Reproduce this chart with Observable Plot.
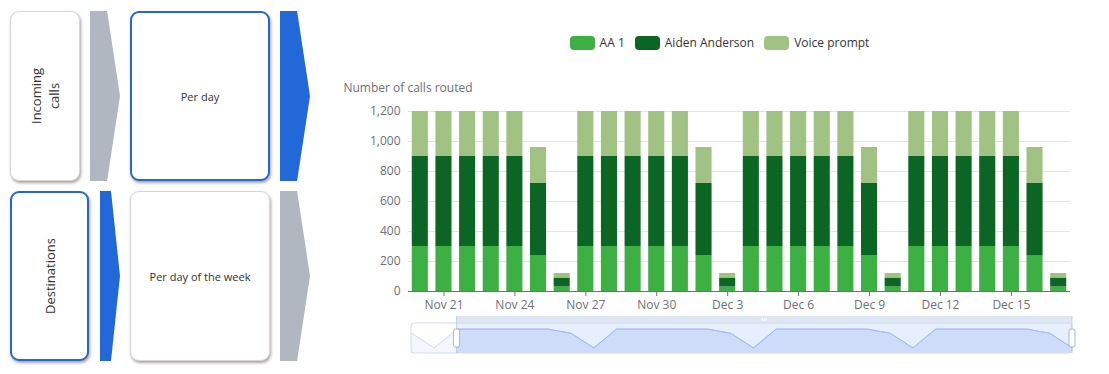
<!DOCTYPE html>
<html><head><meta charset="utf-8">
<script src="https://cdn.jsdelivr.net/npm/d3@7"></script>
<script src="https://cdn.jsdelivr.net/npm/@observablehq/plot@0.6"></script>
<style>
body{margin:0;background:#fff;font-family:"Open Sans",sans-serif;}
#root{position:relative;width:1109px;height:374px;overflow:hidden;}
.box{position:absolute;box-sizing:border-box;background:#fff;border:1px solid #d9d5d5;border-radius:9px;box-shadow:1px 2px 3px rgba(70,50,50,0.45);display:flex;align-items:center;justify-content:center;color:#333;}
.box.sel{border:2px solid #2368d8;}
.arrow{position:absolute;}
.rot{transform:rotate(-90deg);white-space:nowrap;text-align:center;font-size:13px;line-height:18px;}
.flat{font-size:11px;white-space:nowrap;}
#legend{position:absolute;left:330px;width:779px;top:34px;display:flex;justify-content:center;gap:10px;font-size:12px;color:#333;line-height:18px;}
#legend .item{display:flex;align-items:center;gap:5px;}
#legend .sw{width:25px;height:14px;border-radius:4px;}
#ylabel{position:absolute;left:308px;width:200px;top:80px;text-align:center;font-size:12px;color:#6e7079;line-height:16px;}
#chart,#slider{position:absolute;left:330px;}
#chart{top:80px;}
#slider{top:306px;}
</style></head>
<body>
<div id="root">
  <div class="box" style="left:10px;top:11px;width:70px;height:170px;"><div class="rot">Incoming<br>calls</div></div>
  <div class="arrow" style="left:90px;top:11px;width:30px;height:170px;background:#b1b7c0;clip-path:polygon(0 0,57% 0,100% 50%,57% 100%,0 100%);"></div>
  <div class="box sel" style="left:130px;top:11px;width:140px;height:170px;"><div class="flat">Per day</div></div>
  <div class="arrow" style="left:280px;top:11px;width:30px;height:170px;background:#2368d8;clip-path:polygon(0 0,57% 0,100% 50%,57% 100%,0 100%);"></div>

  <div class="box sel" style="left:10px;top:191px;width:79px;height:170px;"><div class="rot">Destinations</div></div>
  <div class="arrow" style="left:100px;top:191px;width:20px;height:170px;background:#2368d8;clip-path:polygon(0 0,55% 0,100% 50%,55% 100%,0 100%);"></div>
  <div class="box" style="left:130px;top:191px;width:140px;height:170px;"><div class="flat">Per day of the week</div></div>
  <div class="arrow" style="left:280px;top:191px;width:30px;height:170px;background:#b1b7c0;clip-path:polygon(0 0,57% 0,100% 50%,57% 100%,0 100%);"></div>

  <div id="legend"></div>
  <div id="ylabel">Number of calls routed</div>
  <div id="chart"></div>
  <div id="slider"></div>
</div>
<script>
// ---- data ----
const dates = ["2023-11-18","2023-11-19","2023-11-20","2023-11-21","2023-11-22","2023-11-23","2023-11-24","2023-11-25","2023-11-26","2023-11-27","2023-11-28","2023-11-29","2023-11-30","2023-12-01","2023-12-02","2023-12-03","2023-12-04","2023-12-05","2023-12-06","2023-12-07","2023-12-08","2023-12-09","2023-12-10","2023-12-11","2023-12-12","2023-12-13","2023-12-14","2023-12-15","2023-12-16","2023-12-17"];
const seriesNames = ["AA 1", "Aiden Anderson", "Voice prompt"];
const seriesColors = ["#3cb043", "#0b6623", "#a0c283"];
const aa1Values   = [240,30,300,300,300,300,300,240,30,300,300,300,300,300,240,30,300,300,300,300,300,240,30,300,300,300,300,300,240,30];
const aidenValues = [480,60,600,600,600,600,600,480,60,600,600,600,600,600,480,60,600,600,600,600,600,480,60,600,600,600,600,600,480,60];
const voiceValues = [240,30,300,300,300,300,300,240,30,300,300,300,300,300,240,30,300,300,300,300,300,240,30,300,300,300,300,300,240,30];
const yTicks = [0, 200, 400, 600, 800, 1000, 1200];
const xTickDates = ["2023-11-21","2023-11-24","2023-11-27","2023-11-30","2023-12-03","2023-12-06","2023-12-09","2023-12-12","2023-12-15"];
const zoomStart = "2023-11-20";
const zoomEnd = "2023-12-17";

// ---- derived tables ----
const seriesValues = [aa1Values, aidenValues, voiceValues];
const visibleDates = dates.filter(d => d >= zoomStart && d <= zoomEnd);
const rows = [];
seriesNames.forEach((s, si) => {
  dates.forEach((d, i) => {
    if (d >= zoomStart && d <= zoomEnd) rows.push({date: d, series: s, value: seriesValues[si][i]});
  });
});
const totals = dates.map((d, i) => ({date: new Date(d), total: aa1Values[i] + aidenValues[i] + voiceValues[i]}));
const fmt = d3.utcFormat("%b %-d");

// ---- legend ----
const legend = document.getElementById("legend");
seriesNames.forEach((s, i) => {
  const it = document.createElement("div"); it.className = "item";
  const sw = document.createElement("div"); sw.className = "sw"; sw.style.background = seriesColors[i];
  const tx = document.createElement("span"); tx.textContent = s;
  it.appendChild(sw); it.appendChild(tx); legend.appendChild(it);
});

// ---- main chart ----
const chart = Plot.plot({
  width: 760, height: 241,
  marginLeft: 78, marginRight: 20, marginTop: 31, marginBottom: 30,
  style: {fontFamily: "Open Sans, sans-serif", fontSize: "12px", color: "#6e7079", background: "transparent", overflow: "visible"},
  x: {type: "band", domain: visibleDates, paddingInner: 0.32, paddingOuter: 0.16, round: false, label: null},
  y: {domain: [0, 1200], label: null},
  color: {domain: seriesNames, range: seriesColors},
  marks: [
    Plot.gridY(yTicks, {stroke: "#e0e6f1", strokeOpacity: 1}),
    Plot.barY(rows, {x: "date", y: "value", fill: "series"}),
    Plot.ruleY([0], {stroke: "#6e7079"}),
    Plot.axisY(yTicks, {tickSize: 0, tickPadding: 8, tickFormat: d3.format(","), label: null}),
    Plot.axisX(xTickDates, {tickSize: 5, tickPadding: 4, tickFormat: d => fmt(new Date(d)), label: null, stroke: "#6e7079"})
  ]
});
document.getElementById("chart").appendChild(chart);

// ---- data zoom slider ----
const tMin = d3.min(totals, d => d.total), tMax = d3.max(totals, d => d.total);
const pad = (tMax - tMin) * 0.3;
const lo = tMin - pad, hi = tMax + pad;
const selTotals = totals.filter(d => d.date >= new Date(zoomStart));
const slider = Plot.plot({
  width: 760, height: 54,
  marginLeft: 81, marginRight: 18, marginTop: 17, marginBottom: 7,
  style: {background: "transparent", overflow: "visible"},
  x: {type: "utc", domain: [new Date(dates[0]), new Date(dates[dates.length - 1])], axis: null},
  y: {domain: [lo, hi], axis: null},
  marks: [
    Plot.areaY(totals, {x: "date", y1: lo, y2: "total", fill: "#d2dbee", fillOpacity: 0.25}),
    Plot.lineY(totals, {x: "date", y: "total", stroke: "#d2dbee", strokeWidth: 1}),
    Plot.rect([0], {x1: () => new Date(zoomStart), x2: () => new Date(zoomEnd), y1: () => lo, y2: () => hi, fill: "rgb(135,175,255)", fillOpacity: 0.2}),
    Plot.areaY(selTotals, {x: "date", y1: lo, y2: "total", fill: "#8fb0f7", fillOpacity: 0.2}),
    Plot.lineY(selTotals, {x: "date", y: "total", stroke: "#9fbaf5", strokeWidth: 1}),
    Plot.rect([0], {x1: () => new Date(dates[0]), x2: () => new Date(dates[dates.length - 1]), y1: () => lo, y2: () => hi, fill: "none", stroke: "#d2dbee", rx: 3})
  ]
});
document.getElementById("slider").appendChild(slider);
const sx = slider.scale("x"), sy = slider.scale("y");
const xs = sx.apply(new Date(zoomStart)), xe = sx.apply(new Date(zoomEnd));
const yTop = sy.apply(hi), yBot = sy.apply(lo);
const g = d3.select(slider).append("g");
g.append("rect").attr("x", xs).attr("y", yTop - 7).attr("width", xe - xs).attr("height", 7).attr("fill", "#d2dbee").attr("opacity", 0.7);
const mid = (xs + xe) / 2;
[-2, 0, 2].forEach(o => g.append("line").attr("x1", mid + o).attr("x2", mid + o).attr("y1", yTop - 5).attr("y2", yTop - 2).attr("stroke", "#ffffff").attr("stroke-width", 1));
[xs, xe].forEach(x => {
  g.append("line").attr("x1", x).attr("x2", x).attr("y1", yTop - 7).attr("y2", yBot).attr("stroke", "#acb8d1").attr("stroke-opacity", 0.6);
  g.append("rect").attr("x", x - 3).attr("y", yTop + 6).attr("width", 6).attr("height", 18).attr("rx", 2).attr("fill", "#fff").attr("stroke", "#acb8d1");
});
</script>
</body></html>
